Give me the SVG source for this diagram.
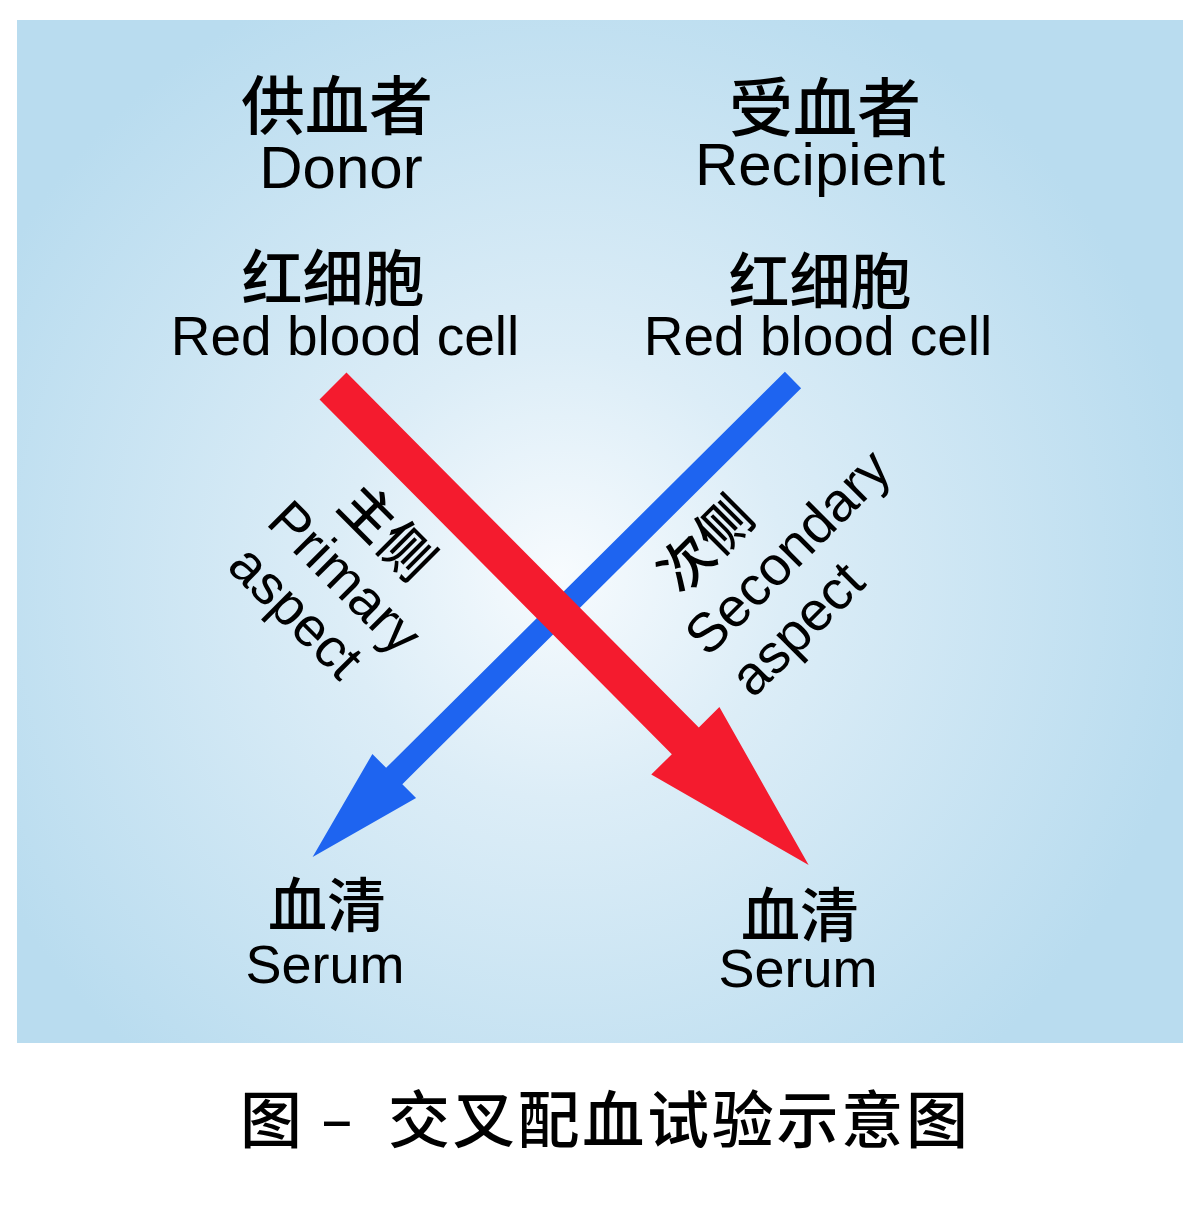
<svg xmlns="http://www.w3.org/2000/svg" width="1200" height="1206" viewBox="0 0 1200 1206">
  <defs>
    <radialGradient id="bg" gradientUnits="userSpaceOnUse" cx="560" cy="575" r="640">
      <stop offset="0" stop-color="#f7fbfe"/>
      <stop offset="0.35" stop-color="#dcedf7"/>
      <stop offset="1" stop-color="#b9dcef"/>
    </radialGradient>
  </defs>
  <style>
    .en { font-family: "Liberation Sans", Arial, sans-serif; fill: #000; }
    .zh { font-family: "Noto Sans CJK SC", "Noto Sans", sans-serif; fill: #000; font-weight: 500; }
    .mid { text-anchor: middle; }
  </style>
  <rect x="0" y="0" width="1200" height="1206" fill="#ffffff"/>
  <rect x="17" y="20" width="1166" height="1023" fill="url(#bg)"/>

  <g id="connectors">
    <g id="arrow-blue" transform="translate(793,380) rotate(135.2)">
      <polygon points="0,-11.5 562,-11.5 562,-31 677,0 562,31 562,11.5 0,11.5" fill="#1e64f0"/>
    </g>
    <g id="arrow-red" transform="translate(333,386) rotate(45.2)">
      <polygon points="0,-19 500,-19 500,-48 675,0 500,48 500,19 0,19" fill="#f41b2e"/>
    </g>
  </g>

  <g id="donor">
    <text class="zh mid" x="337" y="129" font-size="64">供血者</text>
    <text class="en mid" x="341" y="188" font-size="60">Donor</text>
  </g>
  <g id="recipient">
    <text class="zh mid" x="825" y="131" font-size="64">受血者</text>
    <text class="en mid" x="820" y="185" font-size="60">Recipient</text>
  </g>
  <g id="donor-rbc">
    <text class="zh mid" x="333" y="301" font-size="61">红细胞</text>
    <text class="en mid" x="345" y="355" font-size="55">Red blood cell</text>
  </g>
  <g id="recipient-rbc">
    <text class="zh mid" x="820" y="304" font-size="61">红细胞</text>
    <text class="en mid" x="818" y="355" font-size="55">Red blood cell</text>
  </g>
  <g id="serum-left">
    <text class="zh mid" x="327" y="927" font-size="59">血清</text>
    <text class="en mid" x="325" y="983" font-size="54">Serum</text>
  </g>
  <g id="serum-right">
    <text class="zh mid" x="800" y="937" font-size="59">血清</text>
    <text class="en mid" x="798" y="987" font-size="54">Serum</text>
  </g>

  <g id="primary-label" transform="rotate(45)">
    <text class="zh mid" x="650" y="122" font-size="54">主侧</text>
    <text class="en mid" x="652" y="183" font-size="55">Primary</text>
    <text class="en mid" x="642" y="242" font-size="55">aspect</text>
  </g>
  <g id="secondary-label" transform="rotate(-45)">
    <text class="zh" x="60" y="903" font-size="54">次侧</text>
    <text class="en" x="35" y="966" font-size="55">Secondary</text>
    <text class="en" x="38" y="1027" font-size="55">aspect</text>
  </g>

  <g id="caption">
    <text class="zh" x="240" y="1143" font-size="62" font-weight="bold">图</text>
    <text class="zh mid" x="337" y="1140" font-size="58" font-weight="bold">–</text>
    <text class="zh" x="388" y="1143" font-size="62" font-weight="bold" textLength="580" lengthAdjust="spacing">交叉配血试验示意图</text>
  </g>
</svg>
